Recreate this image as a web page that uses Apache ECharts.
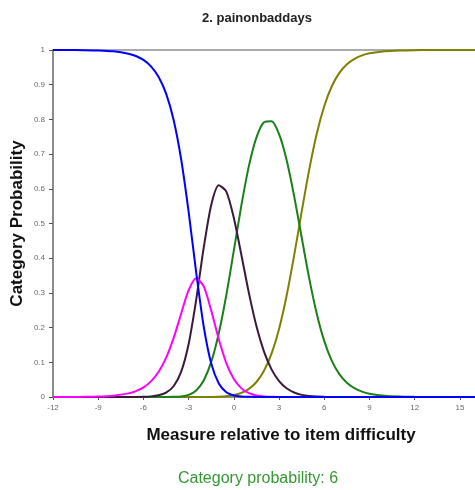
<!DOCTYPE html>
<html>
<head>
<meta charset="utf-8">
<script src="https://cdn.jsdelivr.net/npm/echarts@6/dist/echarts.min.js"></script>
<style>
html,body{margin:0;padding:0;background:#fff;}
#chart{width:475px;height:490px;}
</style>
</head>
<body>
<div id="chart"></div>
<script>
var titleText = '2. painonbaddays';
var xName = 'Measure relative to item difficulty';
var yName = 'Category Probability';
var footer = 'Category probability: 6';

var xs = [-12,-11,-10,-9,-8,-7,-6.5,-6,-5.5,-5,-4.5,-4,-3.5,-3,-2.5,-2,-1.5,-1,-0.5,0,0.5,1,1.5,2,2.5,3,3.5,4,4.5,5,5.5,6,6.5,7,7.5,8,8.5,9,10,11,12,13,14,15,16];

var cat1 = [1,1,0.9995,0.9986,0.9961,0.9894,0.9826,0.9714,0.9530,0.9230,0.8748,0.7990,0.6859,0.5333,0.3594,0.2032,0.0962,0.0390,0.0139,0.0045,0.0013,0.0004,0.0001,0,0,0,0,0,0,0,0,0,0,0,0,0,0,0,0,0,0,0,0,0,0];
var cat2 = [0.0001,0.0002,0.0005,0.0014,0.0039,0.0105,0.0171,0.0279,0.0451,0.0721,0.1126,0.1696,0.2400,0.3077,0.3419,0.3187,0.2488,0.1663,0.0979,0.0517,0.0249,0.0110,0.0046,0.0018,0.0007,0.0002,0.0001,0,0,0,0,0,0,0,0,0,0,0,0,0,0,0,0,0,0];
var cat3 = [0,0,0,0,0,0.0001,0.0003,0.0007,0.0018,0.0048,0.0125,0.0310,0.0723,0.1528,0.2799,0.4303,0.5536,0.6101,0.5920,0.5159,0.4094,0.2993,0.2039,0.1309,0.0797,0.0461,0.0252,0.0130,0.0062,0.0028,0.0012,0.0005,0.0002,0.0001,0,0,0,0,0,0,0,0,0,0,0];
var cat4 = [0,0,0,0,0,0,0,0,0,0,0.0001,0.0005,0.0018,0.0062,0.0188,0.0477,0.1011,0.1838,0.2940,0.4224,0.5526,0.6660,0.7482,0.7918,0.7947,0.7574,0.6829,0.5790,0.4597,0.3420,0.2402,0.1610,0.1043,0.0660,0.0411,0.0253,0.0155,0.0095,0.0035,0.0013,0.0005,0.0002,0.0001,0,0];
var cat5 = [0,0,0,0,0,0,0,0,0,0,0,0,0,0,0,0.0001,0.0003,0.0009,0.0023,0.0055,0.0118,0.0234,0.0432,0.0755,0.1249,0.1963,0.2919,0.4080,0.5341,0.6552,0.7586,0.8385,0.8955,0.9339,0.9589,0.9747,0.9845,0.9905,0.9965,0.9987,0.9995,0.9998,0.9999,1,1];

function pairs(arr){ return xs.map(function(x,i){ return [x, arr[i]]; }); }

var chart = echarts.init(document.getElementById('chart'), null, {renderer:'canvas'});
var font = '"Liberation Sans", Arial, sans-serif';
function line(name, arr, color){
  return {name:name, type:'line', data:pairs(arr), smooth:0.25, symbol:'none',
    lineStyle:{color:color, width:2}, itemStyle:{color:color}, animation:false};
}
chart.setOption({
  animation:false,
  backgroundColor:'#ffffff',
  grid:{left:53, right:-4, top:50, bottom:93, containLabel:false},
  xAxis:[{
    type:'value', min:-12, max:16, interval:3,
    axisLine:{show:true, onZero:false, lineStyle:{color:'#8c8c8c', width:2}},
    axisTick:{show:true, length:3, lineStyle:{color:'#555', width:1}},
    axisLabel:{color:'#6a6a6a', fontSize:8, fontFamily:font, margin:7, showMaxLabel:false},
    splitLine:{show:false}
  },{
    type:'value', min:-12, max:16, position:'top',
    axisLine:{show:true, onZero:false, lineStyle:{color:'#aaaaaa', width:2}},
    axisTick:{show:false}, axisLabel:{show:false}, splitLine:{show:false}
  }],
  yAxis:{
    type:'value', min:0, max:1, interval:0.1,
    axisLine:{show:true, onZero:false, lineStyle:{color:'#8c8c8c', width:2}},
    axisTick:{show:true, length:4, lineStyle:{color:'#555', width:1}},
    axisLabel:{color:'#6a6a6a', fontSize:8, fontFamily:font, margin:8},
    splitLine:{show:false}
  },
  graphic:[
    {type:'text', x:257, y:18, style:{text:titleText, align:'center', verticalAlign:'middle', font:'bold 13px '+font, fill:'#222'}},
    {type:'text', x:281, y:435, style:{text:xName, align:'center', verticalAlign:'middle', font:'bold 17px '+font, fill:'#111'}},
    {type:'text', x:17.5, y:223.5, rotation:Math.PI/2, style:{text:yName, align:'center', verticalAlign:'middle', font:'bold 17px '+font, fill:'#111'}},
    {type:'text', x:258, y:479, style:{text:footer, align:'center', verticalAlign:'middle', font:'16px '+font, fill:'#339933'}}
  ],
  series:[
    line('5', cat5, '#808000'),
    line('4', cat4, '#1a801a'),
    line('3', cat3, '#3a1a3a'),
    line('2', cat2, '#ff00ff'),
    line('1', cat1, '#0000ff')
  ]
});
</script>
</body>
</html>
